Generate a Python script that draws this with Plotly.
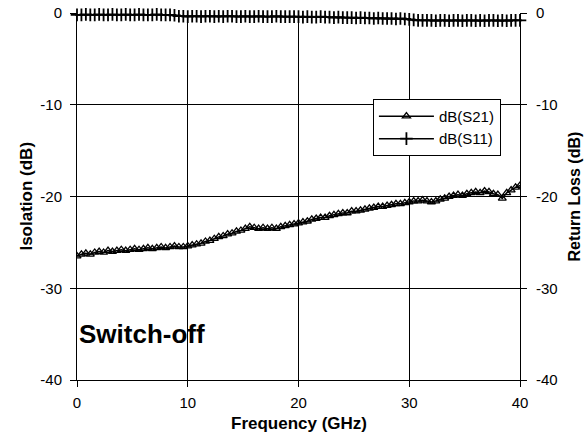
import plotly.graph_objects as go
import numpy as np

# sweep 0..40 GHz, 0.4 GHz step
freq = np.linspace(0, 40, 101)

s21 = [-26.5, -26.3, -26.2, -26.3, -26.1, -26.0, -26.1, -25.9, -26.0, -25.9,
       -25.8, -25.9, -25.8, -25.7, -25.8, -25.7, -25.6, -25.7, -25.6, -25.5,
       -25.6, -25.5, -25.4, -25.5, -25.5, -25.4, -25.3, -25.2, -25.1, -24.9,
       -24.8, -24.6, -24.4, -24.3, -24.1, -24.0, -23.8, -23.7, -23.5, -23.3,
       -23.4, -23.5, -23.4, -23.5, -23.4, -23.5, -23.3, -23.2, -23.1, -23.0,
       -22.9, -22.8, -22.7, -22.5, -22.4, -22.3, -22.3, -22.1, -22.0, -21.9,
       -21.8, -21.8, -21.6, -21.6, -21.5, -21.4, -21.3, -21.2, -21.1, -21.1,
       -21.0, -20.9, -20.8, -20.8, -20.7, -20.6, -20.5, -20.5, -20.4, -20.5,
       -20.6, -20.5, -20.3, -20.2, -20.0, -19.9, -19.8, -19.9, -19.7, -19.6,
       -19.5, -19.6, -19.4, -19.5, -19.7, -19.8, -20.2, -19.6, -19.3, -19.0,
       -18.8]

s11 = [-0.2, -0.2, -0.15, -0.2, -0.2, -0.15, -0.2, -0.2, -0.15, -0.2,
       -0.2, -0.15, -0.2, -0.2, -0.15, -0.2, -0.2, -0.2, -0.15, -0.2,
       -0.2, -0.2, -0.25, -0.35, -0.35, -0.4, -0.35, -0.35, -0.4, -0.35,
       -0.35, -0.4, -0.35, -0.4, -0.35, -0.35, -0.4, -0.4, -0.35, -0.4,
       -0.4, -0.35, -0.4, -0.4, -0.4, -0.35, -0.4, -0.4, -0.4, -0.4,
       -0.4, -0.45, -0.4, -0.45, -0.45, -0.4, -0.45, -0.45, -0.5, -0.45,
       -0.5, -0.5, -0.5, -0.55, -0.5, -0.55, -0.55, -0.6, -0.55, -0.6,
       -0.6, -0.6, -0.65, -0.6, -0.65, -0.7, -0.75, -0.8, -0.8, -0.8,
       -0.8, -0.85, -0.8, -0.8, -0.85, -0.8, -0.8, -0.85, -0.8, -0.8,
       -0.85, -0.8, -0.85, -0.8, -0.8, -0.85, -0.8, -0.85, -0.8, -0.8,
       -0.8]

x_ticks = [0, 10, 20, 30, 40]
x_labels = ["0", "10", "20", "30", "40"]
y_ticks = [0, -10, -20, -30, -40]
y_labels = ["0", "-10", "-20", "-30", "-40"]

font = "Arial, Liberation Sans, sans-serif"

fig = go.Figure()
fig.add_trace(go.Scatter(
    x=freq, y=s21, name="dB(S21)", mode="lines+markers",
    line=dict(color="black", width=1.5),
    marker=dict(symbol="triangle-up-open", size=7, color="black",
                line=dict(width=1.3, color="black"))
))
fig.add_trace(go.Scatter(
    x=freq, y=s11, name="dB(S11)", mode="lines+markers", yaxis="y2",
    cliponaxis=False,
    line=dict(color="black", width=1.5),
    marker=dict(symbol="cross-thin", size=9, color="black",
                line=dict(width=1.8, color="black"))
))

axis_common = dict(
    showline=True, linecolor="black", linewidth=1,
    ticks="outside", ticklen=6, tickcolor="black", automargin=False,
    zeroline=False, tickfont=dict(size=15, color="black", family=font),
)

fig.update_layout(
    width=584, height=438,
    margin=dict(l=77, r=64, t=13, b=58),
    paper_bgcolor="white", plot_bgcolor="white",
    font=dict(family=font, color="black"),
    showlegend=True,
    xaxis=dict(range=[0, 40], tickvals=x_ticks, ticktext=x_labels,
               showgrid=True, gridcolor="black", gridwidth=1,
               ticklabelstandoff=3, **axis_common),
    yaxis=dict(range=[-40, 0], tickvals=y_ticks, ticktext=y_labels,
               showgrid=True, gridcolor="black", gridwidth=1,
               ticklabelstandoff=5, **axis_common),
    yaxis2=dict(range=[-40, 0], tickvals=y_ticks, ticktext=y_labels,
                overlaying="y", side="right", showgrid=False,
                ticklabelstandoff=6, **axis_common),
    legend=dict(x=0.668, y=0.766, xanchor="left", yanchor="top",
                bgcolor="white", bordercolor="black", borderwidth=1,
                itemwidth=55, font=dict(size=15)),
    annotations=[
        dict(text="<b>Switch-off</b>", xref="paper", yref="paper",
             x=0, y=0.125, xanchor="left", yanchor="middle",
             showarrow=False, font=dict(size=26)),
        dict(text="<b>Frequency (GHz)</b>", xref="paper", yref="paper",
             x=0.5, y=-0.118, xanchor="center", yanchor="middle",
             showarrow=False, font=dict(size=17)),
        dict(text="<b>Isolation (dB)</b>", xref="paper", yref="paper",
             x=-0.115, y=0.5, xanchor="center", yanchor="middle",
             textangle=-90, showarrow=False, font=dict(size=17)),
        dict(text="<b>Return Loss (dB)</b>", xref="paper", yref="paper",
             x=1.124, y=0.5, xanchor="center", yanchor="middle",
             textangle=-90, showarrow=False, font=dict(size=16)),
    ],
)

# drop the browser's default 8px body margin so the figure sits at 0,0
fig.write_html("out.html", config={"displayModeBar": False},
               post_script="document.body.style.margin='0';")
